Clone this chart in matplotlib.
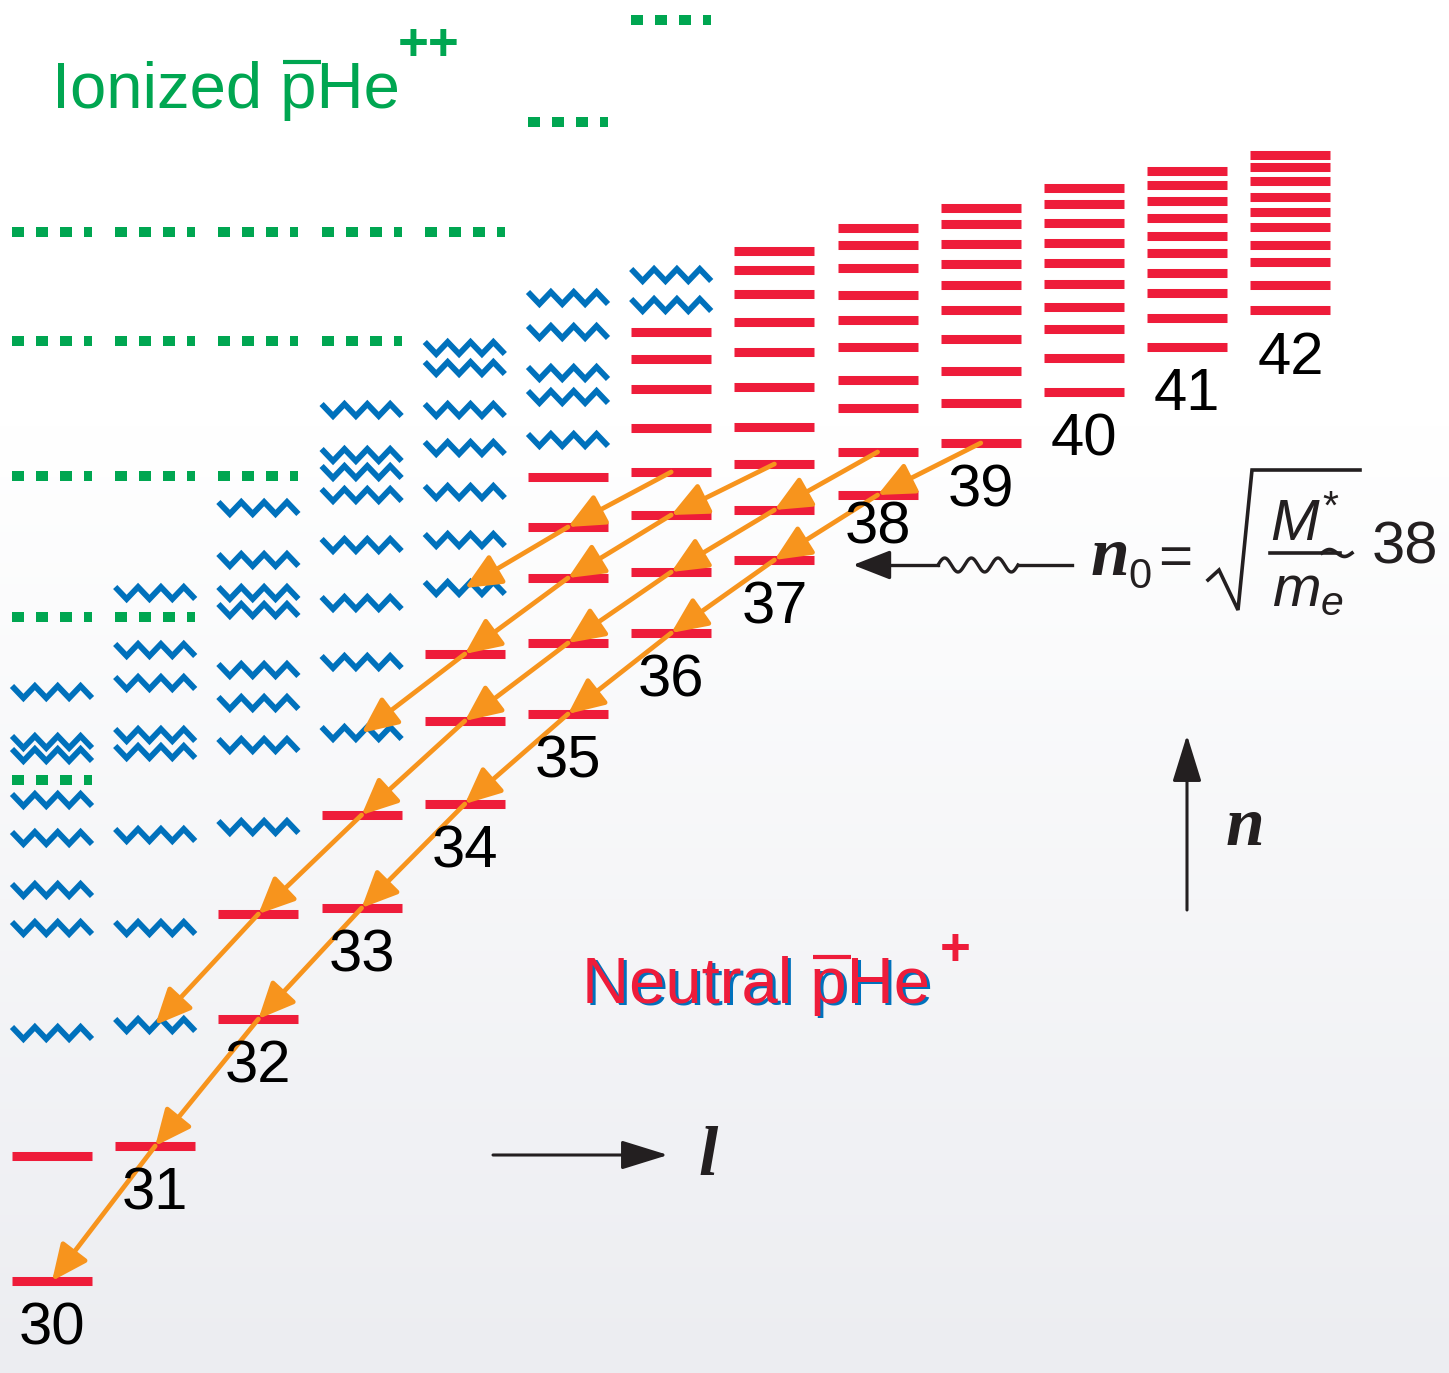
import matplotlib

matplotlib.use("Agg")
import matplotlib.pyplot as plt
import numpy as np
from matplotlib.patches import FancyArrowPatch

WIDTH_PX, HEIGHT_PX = 1449, 1373
DPI = 100

RED = "#EE1C3A"
BLUE = "#0071BC"
GREEN = "#00A651"
ORANGE = "#F7941D"
INK = "#231F20"

# Orbital angular momentum l of each column; the lowest state of a column has n = l + 1.
l_values = list(range(29, 42))

# Level positions per column, as binding energy in diagram units (larger = more deeply bound).
metastable_levels = [
    [1281, 1156],
    [1146],
    [1019, 914],
    [908, 815],
    [804, 721, 654],
    [714, 643, 578, 527, 477],
    [633, 572, 515, 472, 428, 389, 359, 332],
    [560, 510, 464, 427, 387, 352, 322, 294, 270, 251],
    [495, 452, 408, 380, 347, 320, 295, 268, 245, 228],
    [443, 403, 371, 339, 310, 285, 264, 244, 224, 208],
    [392, 358, 329, 307, 284, 263, 243, 223, 204, 188],
    [347, 318, 293, 273, 253, 236, 218, 201, 185, 171],
    [310, 285, 262, 245, 227, 212, 197, 181, 167, 155],
]
short_lived_levels = [
    [1033, 928, 890, 838, 800, 755, 742, 692],
    [1025, 928, 835, 752, 735, 683, 650, 593],
    [827, 745, 703, 670, 610, 593, 560, 508],
    [733, 662, 603, 545, 495, 472, 455, 410],
    [588, 540, 492, 448, 410, 368, 348],
    [440, 397, 373, 332, 298],
    [305, 275],
    [], [], [], [], [], [],
]
ionized_levels = [
    [780, 617, 476, 341, 232],
    [617, 476, 341, 232],
    [476, 341, 232],
    [341, 232],
    [232],
    [122],
    [20],
    [], [], [], [], [], [],
]

# Radiative cascades along constant v = n - l - 1: (v, l where it starts, l where it ends)
cascades = [(0, 38, 29), (1, 37, 30), (2, 36, 32), (3, 35, 33)]

# n labels that sit closer to their level than the others
label_nudge = {38: -15}

LEVEL_WIDTH = 80
LABEL_GAP = 48


def column_left(l):
    return 12 + 103.2 * (l - l_values[0])


def column_levels(i):
    """All levels of a column, deepest first, so index v gives n = l + 1 + v."""
    return sorted(metastable_levels[i] + short_lived_levels[i] + ionized_levels[i], reverse=True)


def draw_zigzag(ax, x0, y, width=LEVEL_WIDTH, amp=12, segments=7):
    xs = x0 + np.linspace(0, width, segments + 1)
    ys = y + np.where(np.arange(segments + 1) % 2 == 0, -amp / 2, amp / 2)
    ax.plot(xs, ys, color=BLUE, lw=4.2, solid_joinstyle="miter", solid_capstyle="butt", zorder=2)


def text_width(ax, renderer, s, **kw):
    t = ax.text(0, 0, s, **kw)
    w = t.get_window_extent(renderer).width
    t.remove()
    return w


def draw_species_label(ax, renderer, x, y, prefix, color, size, shadow=None):
    """Write '<prefix>pHe' with the antiproton bar over the p."""
    kw = dict(fontsize=size, ha="left", va="baseline", zorder=5)
    if shadow is not None:
        ax.text(x + 3, y + 2, prefix + "pHe", color=shadow, **kw)
    ax.text(x, y, prefix + "pHe", color=color, **kw)
    p_end = x + text_width(ax, renderer, prefix + "p", **kw)
    p_start = p_end - text_width(ax, renderer, "p", **kw)
    cap = 0.716 * size * DPI / 72
    ax.plot([p_start + 3, p_end + 4], [y - cap + 1, y - cap + 1], color=color, lw=3, solid_capstyle="butt", zorder=5)
    return x + text_width(ax, renderer, prefix + "pHe", **kw)


def main():
    plt.rcParams["font.family"] = ["Liberation Sans", "DejaVu Sans"]
    plt.rcParams["mathtext.fontset"] = "custom"
    plt.rcParams["mathtext.rm"] = "Liberation Sans"
    plt.rcParams["mathtext.it"] = "Liberation Sans:italic"

    fig = plt.figure(figsize=(WIDTH_PX / DPI, HEIGHT_PX / DPI), dpi=DPI)
    ax = fig.add_axes([0, 0, 1, 1])
    ax.set_xlim(0, WIDTH_PX)
    ax.set_ylim(HEIGHT_PX, 0)
    ax.axis("off")

    # soft white-to-grey backdrop
    rows = np.linspace(0, 1, 400)
    shade = np.clip((rows - 0.31) / 0.69, 0, 1)[:, None]
    top, bottom = np.array([1.0, 1.0, 1.0]), np.array([236, 237, 241]) / 255
    grad = (top + (bottom - top) * shade)[:, None, :]
    ax.imshow(grad, extent=[0, WIDTH_PX, HEIGHT_PX, 0], aspect="auto", zorder=0)

    for i, l in enumerate(l_values):
        x0 = column_left(l)
        if metastable_levels[i]:
            ax.hlines(metastable_levels[i], x0, x0 + LEVEL_WIDTH, color=RED, lw=6.5,
                      capstyle="butt", zorder=2)
        for y in short_lived_levels[i]:
            draw_zigzag(ax, x0, y)
        if ionized_levels[i]:
            ax.hlines(ionized_levels[i], x0, x0 + LEVEL_WIDTH, color=GREEN, lw=7.2,
                      linestyles=[(0, (1.2, 1.2))], capstyle="butt", zorder=2)
        n_low = l + 1
        y_lab = column_levels(i)[0] + LABEL_GAP + label_nudge.get(n_low, 0)
        ax.text(x0 + LEVEL_WIDTH / 2, y_lab, str(n_low), fontsize=43, ha="center",
                va="center", color="black", zorder=5)

    # cascades of radiative transitions (n, l) -> (n-1, l-1)
    for v, l_start, l_end in cascades:
        for l in range(l_start, l_end, -1):
            i_up, i_dn = l_values.index(l), l_values.index(l - 1)
            p_up = (column_left(l) + LEVEL_WIDTH / 2, column_levels(i_up)[v])
            p_dn = (column_left(l - 1) + LEVEL_WIDTH / 2, column_levels(i_dn)[v])
            ax.add_patch(FancyArrowPatch(p_up, p_dn, arrowstyle="-|>,head_length=2.2,head_width=1.0",
                                         mutation_scale=10, lw=3.4, color=ORANGE,
                                         shrinkA=0, shrinkB=0, zorder=3))

    # l and n direction arrows
    for start, end in [((493, 1155), (668, 1155)), ((1187, 910), (1187, 735))]:
        ax.add_patch(FancyArrowPatch(start, end, arrowstyle="-|>,head_length=2.9,head_width=0.9",
                                     mutation_scale=10, lw=2.2, color=INK, shrinkA=0, shrinkB=0, zorder=4))
    serif_bi = dict(family=["Liberation Serif", "DejaVu Serif"], style="italic", weight="bold")
    ax.text(708, 1175, "l", fontsize=50, ha="center", va="baseline", color=INK, **serif_bi)
    ax.text(1245, 845, "n", fontsize=50, ha="center", va="baseline", color=INK, **serif_bi)

    # wavy photon arrow into the n0 formula
    xw = np.linspace(938, 1018, 200)
    ax.plot([1072, 1018], [565, 565], color=INK, lw=2.4, zorder=4)
    ax.plot(xw, 565 - 7 * np.sin((xw - 938) / 80 * 3 * 2 * np.pi), color=INK, lw=2.4, zorder=4)
    ax.plot([938, 880], [565, 565], color=INK, lw=2.4, zorder=4)
    ax.add_patch(FancyArrowPatch((885, 565), (853, 565), arrowstyle="-|>,head_length=2.3,head_width=0.9",
                                 mutation_scale=10, lw=2.4, color=INK, shrinkA=0, shrinkB=0, zorder=4))

    # n0 = sqrt(M*/me) ~ 38
    ax.text(1110, 575, "n", fontsize=50, ha="center", va="baseline", color=INK, **serif_bi)
    ax.text(1140, 588, "0", fontsize=30, ha="center", va="baseline", color=INK)
    ax.text(1175, 575, "=", fontsize=42, ha="center", va="baseline", color=INK)
    ax.plot([1208, 1219, 1238, 1252, 1360], [580, 570, 610, 470, 470], color=INK, lw=2.6,
            solid_joinstyle="miter", zorder=4)
    ax.text(1305, 540, r"$M^{*}$", fontsize=42, ha="center", va="baseline", color=INK)
    ax.plot([1270, 1340], [553, 553], color=INK, lw=2.6, zorder=4)
    xt = np.linspace(1322, 1352, 60)
    ax.plot(xt, 553 - 3.5 * np.sin((xt - 1322) / 30 * 2 * np.pi), color=INK, lw=2.6, zorder=4)
    ax.text(1308, 606, r"$m_e$", fontsize=42, ha="center", va="baseline", color=INK)
    ax.text(1405, 548, "38", fontsize=43, ha="center", va="center", color=INK)

    renderer = fig.canvas.get_renderer()
    x_end = draw_species_label(ax, renderer, 52, 108, "Ionized ", GREEN, 47)
    ax.text(x_end - 2, 60, "++", fontsize=38, weight="bold", ha="left", va="baseline", color=GREEN, zorder=5)
    x_end = draw_species_label(ax, renderer, 582, 1003, "Neutral ", RED, 47, shadow=BLUE)
    ax.text(x_end + 10, 965, "+", fontsize=38, weight="bold", ha="left", va="baseline", color=RED, zorder=5)

    fig.savefig("out.png", dpi=DPI)


if __name__ == "__main__":
    main()
